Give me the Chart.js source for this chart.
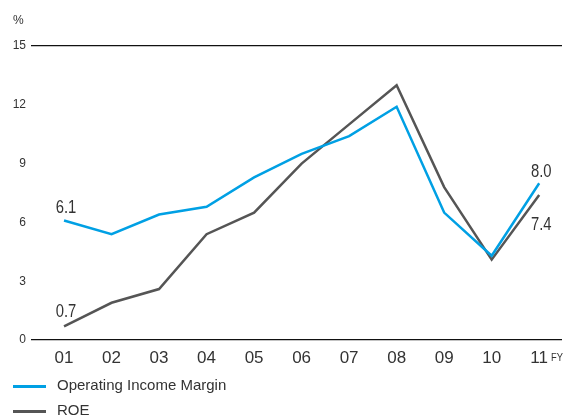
<!DOCTYPE html>
<html>
<head>
<meta charset="utf-8">
<script src="https://cdn.jsdelivr.net/npm/chart.js@4.4.0/dist/chart.umd.min.js"></script>
<style>
  body { margin: 0; background: #fff; font-family: 'Liberation Sans', Arial, sans-serif; }
  #wrap { position: relative; width: 570px; height: 420px; }
  .legend { position: absolute; left: 13px; font-size: 15px; color: #333; }
  .legend span { display: inline-block; width: 33px; height: 3px; vertical-align: middle; margin-right: 11px; }
</style>
</head>
<body>
<div id="wrap">
  <canvas id="chart" width="570" height="420"></canvas>
  <div class="legend" style="top:376px"><span style="background:#00a0e4"></span>Operating Income Margin</div>
  <div class="legend" style="top:401px"><span style="background:#555555"></span>ROE</div>
</div>
<script>
const categories = ['01', '02', '03', '04', '05', '06', '07', '08', '09', '10', '11'];
const marginValues = [6.1, 5.4, 6.4, 6.8, 8.3, 9.5, 10.4, 11.9, 6.5, 4.3, 8.0];
const roeValues = [0.7, 1.9, 2.6, 5.4, 6.5, 9.0, 11.0, 13.0, 7.8, 4.1, 7.4];
const yTicks = [0, 3, 6, 9, 12, 15];

// labels at first and last point: [dataset, index, text, dy]
const pointLabels = [
    [0, 0, '6.1', -11],
    [1, 0, '0.7', -13],
    [0, 10, '8.0', -10],
    [1, 10, '7.4', 31],
];

const extraText = {
    id: 'extraText',
    afterDatasetsDraw(chart) {
        const ctx = chart.ctx;
        ctx.save();
        ctx.fillStyle = '#333';
        ctx.textAlign = 'center';
        ctx.textBaseline = 'bottom';
        ctx.font = '19px "Liberation Sans", sans-serif';
        pointLabels.forEach(([ds, i, text, dy]) => {
            const pt = chart.getDatasetMeta(ds).data[i];
            // squeeze the text sideways, the source uses a condensed face
            ctx.save();
            ctx.translate(pt.x + 2, pt.y + dy + 8);
            ctx.scale(0.78, 1);
            ctx.fillText(text, 0, 0);
            ctx.restore();
        });
        ctx.font = '12px "Liberation Sans", sans-serif';
        ctx.textAlign = 'left';
        ctx.textBaseline = 'middle';
        ctx.fillText('%', 13, 21);
        ctx.save();
        ctx.translate(551, 358);
        ctx.scale(0.85, 1);
        ctx.font = '11px "Liberation Sans", sans-serif';
        ctx.fillText('FY', 0, 0);
        ctx.restore();
        ctx.restore();
    }
};

new Chart(document.getElementById('chart'), {
    type: 'line',
    data: {
        datasets: [
            {
                label: 'Operating Income Margin',
                data: marginValues.map((v, i) => ({ x: i + 1, y: v })),
                borderColor: '#00a0e4',
                borderWidth: 2.5,
                pointRadius: 0,
                tension: 0,
            },
            {
                label: 'ROE',
                data: roeValues.map((v, i) => ({ x: i + 1, y: v })),
                borderColor: '#555555',
                borderWidth: 2.5,
                pointRadius: 0,
                tension: 0,
            },
        ],
    },
    options: {
        responsive: false,
        animation: false,
        layout: { padding: { top: 46, right: 8, bottom: 50, left: 0 } },
        plugins: { legend: { display: false }, tooltip: { enabled: false } },
        scales: {
            x: {
                type: 'linear',
                min: 0.305,
                max: 11.48,
                grid: { display: false },
                border: { display: false },
                afterFit: (scale) => { scale.height = 30; },
                afterBuildTicks: (scale) => {
                    scale.ticks = categories.map((c, i) => ({ value: i + 1 }));
                },
                ticks: {
                    callback: (value) => categories[value - 1],
                    color: '#333',
                    padding: 0,
                    maxRotation: 0,
                    autoSkip: false,
                    font: { family: 'Liberation Sans', size: 17 },
                },
            },
            y: {
                min: 0,
                max: 15,
                afterFit: (scale) => { scale.width = 31; },
                afterBuildTicks: (scale) => {
                    scale.ticks = yTicks.map((v) => ({ value: v }));
                },
                grid: {
                    color: (c) => (c.tick && (c.tick.value === 0 || c.tick.value === 15) ? '#111' : 'rgba(0,0,0,0)'),
                    lineWidth: 1.2,
                    drawTicks: false,
                },
                border: { display: false },
                ticks: {
                    color: '#333',
                    padding: 5,
                    font: { family: 'Liberation Sans', size: 12 },
                },
            },
        },
    },
    plugins: [extraText],
});
</script>
</body>
</html>
